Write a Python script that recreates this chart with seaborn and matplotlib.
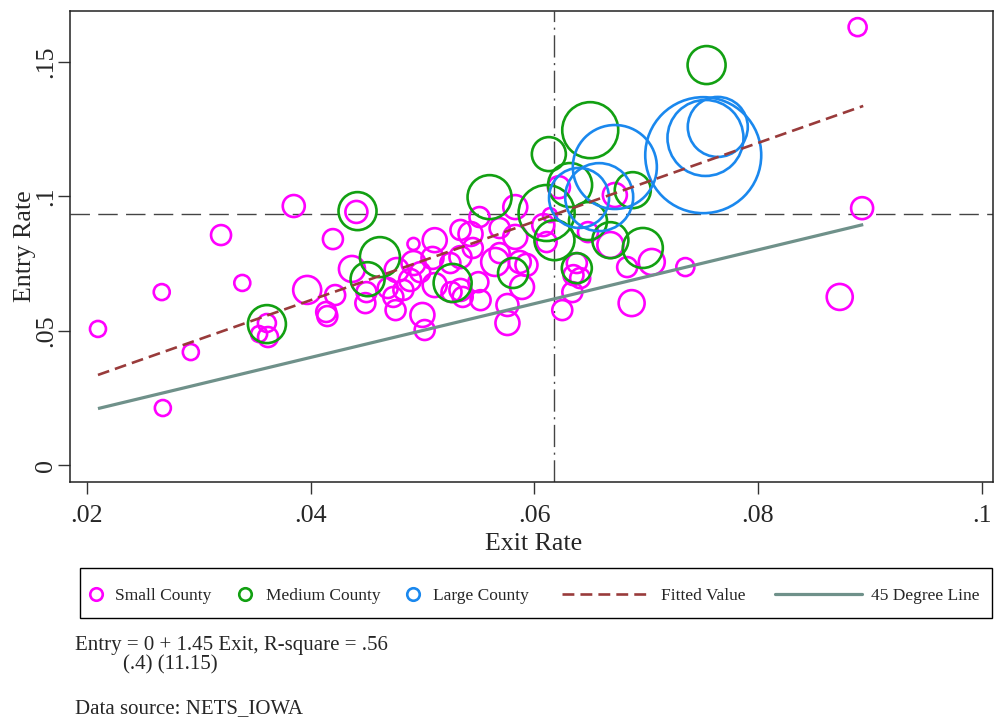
import matplotlib.pyplot as plt
import numpy as np
import pandas as pd
import seaborn as sns
from matplotlib.lines import Line2D
from matplotlib.patches import Rectangle

# county groups: exit rate, entry rate, weight (marker area)
small_exit = [0.0210, 0.0267, 0.0268, 0.0293, 0.0320, 0.0339, 0.0385, 0.0397, 0.0420, 0.0422,
              0.0414, 0.0415, 0.0361, 0.0354, 0.0362, 0.0441, 0.0437, 0.0450, 0.0449, 0.0492,
              0.0511, 0.0534, 0.0543, 0.0551, 0.0545, 0.0583, 0.0569, 0.0583, 0.0608, 0.0614,
              0.0611, 0.0477, 0.0492, 0.0498, 0.0509, 0.0525, 0.0534, 0.0565, 0.0587, 0.0593,
              0.0589, 0.0576, 0.0576, 0.0625, 0.0634, 0.0489, 0.0474, 0.0483, 0.0476, 0.0500,
              0.0502, 0.0511, 0.0534, 0.0536, 0.0550, 0.0552, 0.0526, 0.0469, 0.0622, 0.0672,
              0.0648, 0.0668, 0.0705, 0.0683, 0.0735, 0.0638, 0.0635, 0.0641, 0.0687, 0.0569,
              0.0889, 0.0893, 0.0873]
small_entry = [0.0506, 0.0643, 0.0212, 0.0420, 0.0855, 0.0677, 0.0963, 0.0651, 0.0840, 0.0632,
               0.0569, 0.0554, 0.0528, 0.0487, 0.0476, 0.0941, 0.0729, 0.0643, 0.0602, 0.0822,
               0.0836, 0.0874, 0.0859, 0.0922, 0.0807, 0.0959, 0.0881, 0.0848, 0.0892, 0.0929,
               0.0829, 0.0725, 0.0751, 0.0717, 0.0770, 0.0751, 0.0773, 0.0755, 0.0755, 0.0744,
               0.0662, 0.0595, 0.0528, 0.0576, 0.0643, 0.0688, 0.0625, 0.0651, 0.0576, 0.0558,
               0.0502, 0.0669, 0.0651, 0.0625, 0.0680, 0.0613, 0.0643, 0.0658, 0.1033, 0.1004,
               0.0866, 0.0818, 0.0755, 0.0736, 0.0736, 0.0751, 0.0706, 0.0695, 0.0602, 0.0788,
               0.1628, 0.0955, 0.0625]
small_w = [64, 64, 64, 64, 100, 64, 121, 196, 100, 100,
           100, 100, 81, 64, 100, 121, 169, 100, 100, 36,
           144, 100, 144, 100, 100, 144, 100, 144, 121, 49,
           100, 144, 144, 100, 121, 100, 121, 196, 121, 121,
           144, 121, 144, 100, 100, 121, 100, 100, 100, 144,
           100, 144, 121, 100, 100, 100, 100, 100, 121, 144,
           100, 169, 169, 100, 81, 100, 100, 100, 169, 100,
           81, 121, 169]

medium_exit = [0.0361, 0.0442, 0.0462, 0.0451, 0.0560, 0.0611, 0.0618, 0.0581, 0.0527,
               0.0754, 0.0650, 0.0613, 0.0632, 0.0688, 0.0648, 0.0668, 0.0697, 0.0638]
medium_entry = [0.0524, 0.0944, 0.0773, 0.0691, 0.0996, 0.0937, 0.0836, 0.0714, 0.0677,
                0.1487, 0.1245, 0.1156, 0.1041, 0.1022, 0.0907, 0.0836, 0.0807, 0.0732]
medium_w = [361, 361, 400, 289, 484, 784, 400, 225, 361,
            361, 784, 289, 484, 324, 361, 324, 400, 225]

large_exit = [0.0672, 0.0751, 0.0753, 0.0764, 0.0640, 0.0658]
large_entry = [0.1108, 0.1152, 0.1216, 0.1257, 0.0993, 0.0996]
large_w = [1764, 3364, 1444, 900, 900, 1156]

# fitted value and 45 degree line end points
fit_exit = [0.0210, 0.0894]
fit_entry = [0.0335, 0.1335]
deg_exit = [0.0210, 0.0894]
deg_entry = [0.0210, 0.0894]

mean_exit = 0.0618
mean_entry = 0.0933

xticks = [0.02, 0.04, 0.06, 0.08, 0.10]
xtick_labels = ['.02', '.04', '.06', '.08', '.1']
yticks = [0, 0.05, 0.10, 0.15]
ytick_labels = ['0', '.05', '.1', '.15']

groups = ['Small County', 'Medium County', 'Large County']
colors = ['#ff00ff', '#12a012', '#1a88ee']
fit_col = '#993b3b'
deg_col = '#6f918a'

df = pd.concat([
    pd.DataFrame({'exit': small_exit, 'entry': small_entry, 'weight': small_w, 'county': groups[0]}),
    pd.DataFrame({'exit': medium_exit, 'entry': medium_entry, 'weight': medium_w, 'county': groups[1]}),
    pd.DataFrame({'exit': large_exit, 'entry': large_entry, 'weight': large_w, 'county': groups[2]}),
], ignore_index=True)

sns.set_theme(style='ticks')
plt.rcParams['font.family'] = ['Liberation Serif', 'DejaVu Serif']

W, H = 1002, 719
fig = plt.figure(figsize=(W / 100, H / 100), dpi=100)
ax = fig.add_axes([70 / W, 1 - 482 / H, 923 / W, 471 / H])

wmax = df['weight'].max()
# area proportional to weight (1 px radius^2 -> 2.07 pt^2)
sns.scatterplot(data=df, x='exit', y='entry', hue='county', hue_order=groups,
                palette=colors, size='weight', sizes=(0, 2.0736 * wmax),
                size_norm=(0, wmax), legend=False, ax=ax, zorder=2)
pts = ax.collections[0]
pts.set_edgecolors(pts.get_facecolors())
pts.set_facecolors('none')
pts.set_linewidths(1.9)

ax.plot(deg_exit, deg_entry, color=deg_col, lw=2.3, zorder=3, solid_capstyle='butt')
ax.plot(fit_exit, fit_entry, color=fit_col, lw=1.9, dashes=(4.5, 2.3), zorder=4)
ax.axvline(mean_exit, color='#444444', lw=1.0, dashes=(16, 4, 1.5, 4), zorder=1)
ax.axhline(mean_entry, color='#444444', lw=1.0, dashes=(14, 6), zorder=1)

ax.set_xlim(0.0185, 0.101)
ax.set_ylim(-0.0063, 0.1688)
ax.set_xticks(xticks)
ax.set_xticklabels(xtick_labels)
ax.set_yticks(yticks)
ax.set_yticklabels(ytick_labels, rotation=90, va='center')
ax.tick_params(length=8.3, width=1.0, color='#333333', labelsize=18.7)
ax.tick_params(axis='x', pad=8)
ax.tick_params(axis='y', pad=1)
for s in ax.spines.values():
    s.set_visible(True)
    s.set_linewidth(1.1)
    s.set_color('#222222')

ax.set_xlabel('Exit Rate', fontsize=18.7)
ax.set_ylabel('Entry Rate', fontsize=18.7)
ax.xaxis.set_label_coords(0.5027, -0.108)
ax.yaxis.set_label_coords(-0.0368, 0.5)

# legend box below the plot
fig.add_artist(Rectangle((80 / W, 1 - 618 / H), 912 / W, 50 / H, transform=fig.transFigure,
                         fill=False, lw=1.0, ec='black'))
ly = 1 - 594 / H
ty = 1 - 600 / H
for mx, col, lab, tx in zip([96, 245, 413], colors, groups, [115, 266, 433]):
    fig.add_artist(Line2D([mx / W], [ly], transform=fig.transFigure, marker='o', ms=9,
                          mfc='none', mec=col, mew=1.9, ls='none'))
    fig.text(tx / W, ty, lab, fontsize=12.5, va='baseline')
fig.add_artist(Line2D([562 / W, 649 / W], [ly, ly], transform=fig.transFigure,
                      color=fit_col, lw=1.9, dashes=(4.5, 2.3)))
fig.text(661 / W, ty, 'Fitted Value', fontsize=12.5, va='baseline')
fig.add_artist(Line2D([775 / W, 862 / W], [ly, ly], transform=fig.transFigure,
                      color=deg_col, lw=2.3))
fig.text(871 / W, ty, '45 Degree Line', fontsize=12.5, va='baseline')

fig.text(75 / W, 1 - 650 / H, 'Entry = 0 + 1.45 Exit, R-square = .56', fontsize=15, va='baseline')
fig.text(123 / W, 1 - 669 / H, '(.4) (11.15)', fontsize=15, va='baseline')
fig.text(75 / W, 1 - 713 / H, 'Data source: NETS_IOWA', fontsize=15, va='baseline')

fig.savefig('out.png', dpi=100)
